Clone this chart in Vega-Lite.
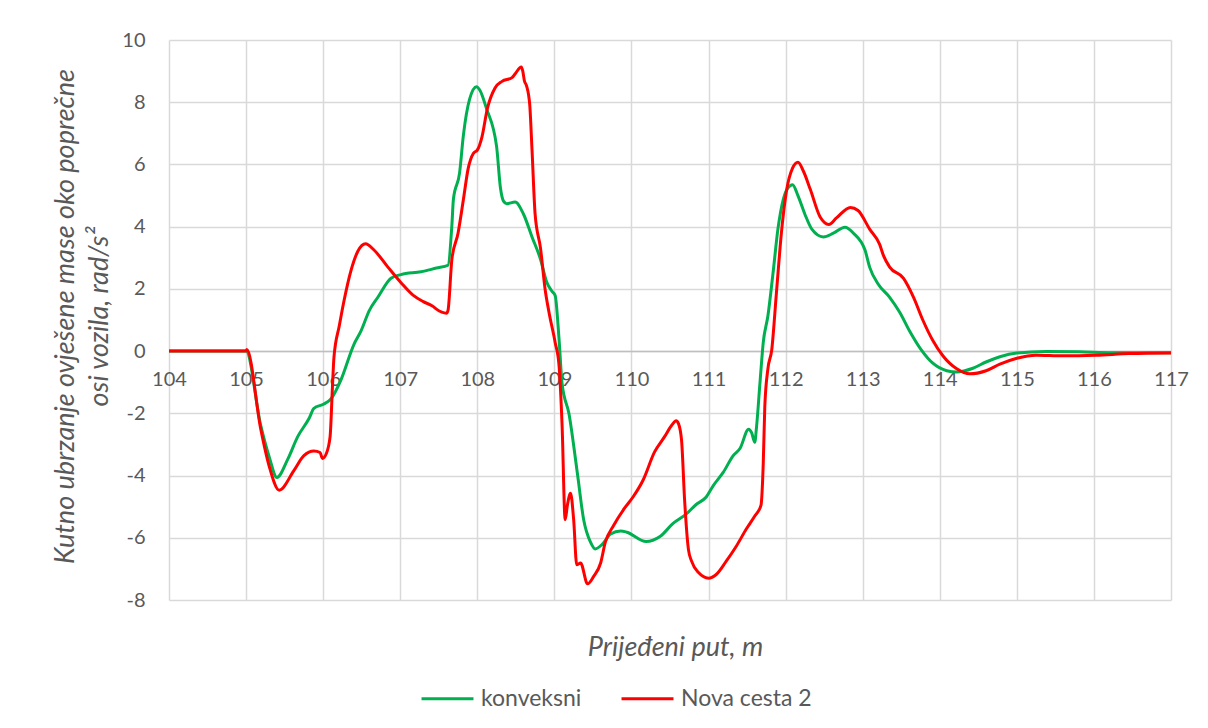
{
"$schema":"https://vega.github.io/schema/vega-lite/v6.json",
"width":1002,"height":560,
"autosize":{"type":"none"},
"padding":{"left":169,"top":40,"right":37,"bottom":128},
"background":"white",
"config":{"view":{"stroke":null},"font":"Lato"},
"data":{"values":[
{"s":"konveksni","x":104,"y":0},{"s":"konveksni","x":105,"y":0},{"s":"konveksni","x":105.19,"y":-2.39},{"s":"konveksni","x":105.3,"y":-3.4},{"s":"konveksni","x":105.4,"y":-4.06},{"s":"konveksni","x":105.54,"y":-3.48},{"s":"konveksni","x":105.67,"y":-2.75},{"s":"konveksni","x":105.82,"y":-2.15},{"s":"konveksni","x":105.88,"y":-1.84},{"s":"konveksni","x":106.01,"y":-1.7},{"s":"konveksni","x":106.1,"y":-1.54},{"s":"konveksni","x":106.23,"y":-0.93},{"s":"konveksni","x":106.4,"y":0.22},{"s":"konveksni","x":106.49,"y":0.64},{"s":"konveksni","x":106.6,"y":1.31},{"s":"konveksni","x":106.71,"y":1.73},{"s":"konveksni","x":106.88,"y":2.34},{"s":"konveksni","x":107.01,"y":2.46},{"s":"konveksni","x":107.27,"y":2.55},{"s":"konveksni","x":107.47,"y":2.67},{"s":"konveksni","x":107.62,"y":2.76},{"s":"konveksni","x":107.67,"y":4.04},{"s":"konveksni","x":107.69,"y":4.88},{"s":"konveksni","x":107.77,"y":5.73},{"s":"konveksni","x":107.82,"y":6.95},{"s":"konveksni","x":107.9,"y":8.1},{"s":"konveksni","x":107.99,"y":8.5},{"s":"konveksni","x":108.03,"y":8.4},{"s":"konveksni","x":108.12,"y":7.79},{"s":"konveksni","x":108.25,"y":6.58},{"s":"konveksni","x":108.3,"y":5.25},{"s":"konveksni","x":108.34,"y":4.82},{"s":"konveksni","x":108.38,"y":4.74},{"s":"konveksni","x":108.49,"y":4.79},{"s":"konveksni","x":108.6,"y":4.4},{"s":"konveksni","x":108.71,"y":3.67},{"s":"konveksni","x":108.82,"y":2.95},{"s":"konveksni","x":108.9,"y":2.22},{"s":"konveksni","x":108.97,"y":1.92},{"s":"konveksni","x":109.01,"y":1.79},{"s":"konveksni","x":109.06,"y":0.4},{"s":"konveksni","x":109.1,"y":-1.05},{"s":"konveksni","x":109.19,"y":-2.02},{"s":"konveksni","x":109.3,"y":-3.96},{"s":"konveksni","x":109.38,"y":-5.42},{"s":"konveksni","x":109.47,"y":-6.15},{"s":"konveksni","x":109.53,"y":-6.36},{"s":"konveksni","x":109.62,"y":-6.21},{"s":"konveksni","x":109.73,"y":-5.88},{"s":"konveksni","x":109.86,"y":-5.78},{"s":"konveksni","x":109.94,"y":-5.82},{"s":"konveksni","x":110.19,"y":-6.12},{"s":"konveksni","x":110.37,"y":-5.96},{"s":"konveksni","x":110.54,"y":-5.54},{"s":"konveksni","x":110.71,"y":-5.24},{"s":"konveksni","x":110.84,"y":-4.93},{"s":"konveksni","x":110.97,"y":-4.69},{"s":"konveksni","x":111.06,"y":-4.33},{"s":"konveksni","x":111.19,"y":-3.9},{"s":"konveksni","x":111.32,"y":-3.36},{"s":"konveksni","x":111.41,"y":-3.12},{"s":"konveksni","x":111.52,"y":-2.51},{"s":"konveksni","x":111.56,"y":-2.63},{"s":"konveksni","x":111.6,"y":-2.93},{"s":"konveksni","x":111.62,"y":-2.51},{"s":"konveksni","x":111.67,"y":-0.93},{"s":"konveksni","x":111.71,"y":0.28},{"s":"konveksni","x":111.77,"y":1.13},{"s":"konveksni","x":111.84,"y":2.58},{"s":"konveksni","x":111.9,"y":3.92},{"s":"konveksni","x":111.97,"y":4.88},{"s":"konveksni","x":112.03,"y":5.25},{"s":"konveksni","x":112.09,"y":5.35},{"s":"konveksni","x":112.16,"y":5.0},{"s":"konveksni","x":112.25,"y":4.4},{"s":"konveksni","x":112.34,"y":3.92},{"s":"konveksni","x":112.49,"y":3.67},{"s":"konveksni","x":112.62,"y":3.79},{"s":"konveksni","x":112.77,"y":3.98},{"s":"konveksni","x":112.88,"y":3.79},{"s":"konveksni","x":113.03,"y":3.25},{"s":"konveksni","x":113.09,"y":2.7},{"s":"konveksni","x":113.2,"y":2.16},{"s":"konveksni","x":113.35,"y":1.73},{"s":"konveksni","x":113.48,"y":1.25},{"s":"konveksni","x":113.61,"y":0.64},{"s":"konveksni","x":113.76,"y":0.04},{"s":"konveksni","x":113.91,"y":-0.39},{"s":"konveksni","x":114.09,"y":-0.63},{"s":"konveksni","x":114.22,"y":-0.67},{"s":"konveksni","x":114.43,"y":-0.55},{"s":"konveksni","x":114.6,"y":-0.35},{"s":"konveksni","x":114.78,"y":-0.18},{"s":"konveksni","x":115.0,"y":-0.06},{"s":"konveksni","x":115.38,"y":-0.01},{"s":"konveksni","x":115.81,"y":-0.02},{"s":"konveksni","x":116.24,"y":-0.05},{"s":"konveksni","x":117,"y":-0.05},
{"s":"Nova cesta 2","x":104,"y":0},{"s":"Nova cesta 2","x":105,"y":0},{"s":"Nova cesta 2","x":105.01,"y":0.05},{"s":"Nova cesta 2","x":105.19,"y":-2.5},{"s":"Nova cesta 2","x":105.3,"y":-3.7},{"s":"Nova cesta 2","x":105.43,"y":-4.47},{"s":"Nova cesta 2","x":105.62,"y":-3.84},{"s":"Nova cesta 2","x":105.75,"y":-3.36},{"s":"Nova cesta 2","x":105.88,"y":-3.21},{"s":"Nova cesta 2","x":105.96,"y":-3.26},{"s":"Nova cesta 2","x":105.99,"y":-3.45},{"s":"Nova cesta 2","x":106.04,"y":-3.3},{"s":"Nova cesta 2","x":106.09,"y":-2.75},{"s":"Nova cesta 2","x":106.12,"y":-1.18},{"s":"Nova cesta 2","x":106.14,"y":-0.2},{"s":"Nova cesta 2","x":106.21,"y":0.82},{"s":"Nova cesta 2","x":106.27,"y":1.61},{"s":"Nova cesta 2","x":106.36,"y":2.58},{"s":"Nova cesta 2","x":106.45,"y":3.21},{"s":"Nova cesta 2","x":106.55,"y":3.45},{"s":"Nova cesta 2","x":106.66,"y":3.25},{"s":"Nova cesta 2","x":106.84,"y":2.7},{"s":"Nova cesta 2","x":107.01,"y":2.2},{"s":"Nova cesta 2","x":107.17,"y":1.79},{"s":"Nova cesta 2","x":107.3,"y":1.59},{"s":"Nova cesta 2","x":107.43,"y":1.43},{"s":"Nova cesta 2","x":107.47,"y":1.35},{"s":"Nova cesta 2","x":107.6,"y":1.22},{"s":"Nova cesta 2","x":107.62,"y":1.31},{"s":"Nova cesta 2","x":107.67,"y":2.95},{"s":"Nova cesta 2","x":107.75,"y":3.79},{"s":"Nova cesta 2","x":107.82,"y":4.88},{"s":"Nova cesta 2","x":107.88,"y":5.85},{"s":"Nova cesta 2","x":107.95,"y":6.36},{"s":"Nova cesta 2","x":108.0,"y":6.46},{"s":"Nova cesta 2","x":108.06,"y":6.88},{"s":"Nova cesta 2","x":108.13,"y":7.79},{"s":"Nova cesta 2","x":108.23,"y":8.46},{"s":"Nova cesta 2","x":108.32,"y":8.67},{"s":"Nova cesta 2","x":108.45,"y":8.79},{"s":"Nova cesta 2","x":108.49,"y":8.91},{"s":"Nova cesta 2","x":108.57,"y":9.13},{"s":"Nova cesta 2","x":108.59,"y":9.0},{"s":"Nova cesta 2","x":108.61,"y":8.7},{"s":"Nova cesta 2","x":108.64,"y":8.52},{"s":"Nova cesta 2","x":108.68,"y":7.92},{"s":"Nova cesta 2","x":108.71,"y":6.46},{"s":"Nova cesta 2","x":108.75,"y":4.4},{"s":"Nova cesta 2","x":108.82,"y":3.31},{"s":"Nova cesta 2","x":108.88,"y":1.98},{"s":"Nova cesta 2","x":108.93,"y":1.25},{"s":"Nova cesta 2","x":109.01,"y":0.28},{"s":"Nova cesta 2","x":109.06,"y":-0.45},{"s":"Nova cesta 2","x":109.1,"y":-2.39},{"s":"Nova cesta 2","x":109.14,"y":-5.42},{"s":"Nova cesta 2","x":109.17,"y":-4.93},{"s":"Nova cesta 2","x":109.21,"y":-4.57},{"s":"Nova cesta 2","x":109.25,"y":-5.42},{"s":"Nova cesta 2","x":109.29,"y":-6.87},{"s":"Nova cesta 2","x":109.34,"y":-6.81},{"s":"Nova cesta 2","x":109.43,"y":-7.48},{"s":"Nova cesta 2","x":109.51,"y":-7.24},{"s":"Nova cesta 2","x":109.6,"y":-6.81},{"s":"Nova cesta 2","x":109.66,"y":-6.15},{"s":"Nova cesta 2","x":109.77,"y":-5.6},{"s":"Nova cesta 2","x":109.91,"y":-5.05},{"s":"Nova cesta 2","x":110.02,"y":-4.69},{"s":"Nova cesta 2","x":110.15,"y":-4.15},{"s":"Nova cesta 2","x":110.3,"y":-3.24},{"s":"Nova cesta 2","x":110.43,"y":-2.75},{"s":"Nova cesta 2","x":110.52,"y":-2.39},{"s":"Nova cesta 2","x":110.58,"y":-2.24},{"s":"Nova cesta 2","x":110.61,"y":-2.33},{"s":"Nova cesta 2","x":110.65,"y":-2.87},{"s":"Nova cesta 2","x":110.69,"y":-4.81},{"s":"Nova cesta 2","x":110.74,"y":-6.39},{"s":"Nova cesta 2","x":110.78,"y":-6.75},{"s":"Nova cesta 2","x":110.87,"y":-7.12},{"s":"Nova cesta 2","x":111.0,"y":-7.3},{"s":"Nova cesta 2","x":111.1,"y":-7.18},{"s":"Nova cesta 2","x":111.23,"y":-6.75},{"s":"Nova cesta 2","x":111.36,"y":-6.27},{"s":"Nova cesta 2","x":111.49,"y":-5.72},{"s":"Nova cesta 2","x":111.6,"y":-5.3},{"s":"Nova cesta 2","x":111.68,"y":-4.96},{"s":"Nova cesta 2","x":111.71,"y":-3.6},{"s":"Nova cesta 2","x":111.73,"y":-1.78},{"s":"Nova cesta 2","x":111.77,"y":-0.57},{"s":"Nova cesta 2","x":111.82,"y":0.04},{"s":"Nova cesta 2","x":111.88,"y":1.85},{"s":"Nova cesta 2","x":111.95,"y":3.92},{"s":"Nova cesta 2","x":112.01,"y":5.13},{"s":"Nova cesta 2","x":112.09,"y":5.88},{"s":"Nova cesta 2","x":112.16,"y":6.07},{"s":"Nova cesta 2","x":112.23,"y":5.79},{"s":"Nova cesta 2","x":112.32,"y":5.2},{"s":"Nova cesta 2","x":112.45,"y":4.3},{"s":"Nova cesta 2","x":112.56,"y":4.07},{"s":"Nova cesta 2","x":112.66,"y":4.28},{"s":"Nova cesta 2","x":112.84,"y":4.62},{"s":"Nova cesta 2","x":112.94,"y":4.52},{"s":"Nova cesta 2","x":113.09,"y":3.92},{"s":"Nova cesta 2","x":113.22,"y":3.43},{"s":"Nova cesta 2","x":113.27,"y":3.07},{"s":"Nova cesta 2","x":113.35,"y":2.7},{"s":"Nova cesta 2","x":113.53,"y":2.34},{"s":"Nova cesta 2","x":113.66,"y":1.73},{"s":"Nova cesta 2","x":113.78,"y":1.0},{"s":"Nova cesta 2","x":113.91,"y":0.34},{"s":"Nova cesta 2","x":114.04,"y":-0.15},{"s":"Nova cesta 2","x":114.22,"y":-0.57},{"s":"Nova cesta 2","x":114.39,"y":-0.73},{"s":"Nova cesta 2","x":114.6,"y":-0.63},{"s":"Nova cesta 2","x":114.78,"y":-0.42},{"s":"Nova cesta 2","x":115.0,"y":-0.23},{"s":"Nova cesta 2","x":115.25,"y":-0.13},{"s":"Nova cesta 2","x":115.6,"y":-0.15},{"s":"Nova cesta 2","x":116.03,"y":-0.13},{"s":"Nova cesta 2","x":116.46,"y":-0.08},{"s":"Nova cesta 2","x":117,"y":-0.06}
]},
"mark":{"type":"line","interpolate":"monotone","strokeWidth":3},
"encoding":{
"x":{"field":"x","type":"quantitative","scale":{"domain":[104,117],"nice":false,"zero":false},
"axis":{"values":[104,105,106,107,108,109,110,111,112,113,114,115,116,117],"offset":-249,"grid":true,"gridColor":"#D9D9D9","gridWidth":1.5,"domainColor":"#BFBFBF","domainWidth":1.5,"ticks":false,"labelFontSize":20,"labelColor":"#595959","labelPadding":18,"labelFlush":false,"labelExpr":"datum.value + ''",
"title":"Prijeđeni put, m","titleFontStyle":"italic","titleFontWeight":"normal","titleFontSize":27,"titleColor":"#595959","titleX":506,"titleY":296,"titleBaseline":"middle"}},
"y":{"field":"y","type":"quantitative","scale":{"domain":[-8,10],"nice":false},
"axis":{"values":[-8,-6,-4,-2,0,2,4,6,8,10],"grid":true,"gridColor":"#D9D9D9","gridWidth":1.5,"domain":false,"ticks":false,"labelFontSize":20,"labelColor":"#595959","labelPadding":24,"labelExpr":"datum.value + ''",
"title":["Kutno ubrzanje ovješene mase oko poprečne","osi vozila, rad/s²"],"titleFontStyle":"italic","titleFontWeight":"normal","titleFontSize":27,"titleColor":"#595959","titleLineHeight":34,"titleX":-117,"titleY":276,"titleBaseline":"top","titleAlign":"center"}},
"color":{"field":"s","type":"nominal","scale":{"domain":["konveksni","Nova cesta 2"],"range":["#00B050","#FF0000"]},
"legend":{"title":null,"orient":"none","legendX":251,"legendY":631,"direction":"horizontal","symbolType":"stroke","symbolStrokeWidth":3,"symbolSize":2700,"labelFontSize":23,"labelColor":"#595959","labelOffset":6,"columnPadding":33}}
}
}
